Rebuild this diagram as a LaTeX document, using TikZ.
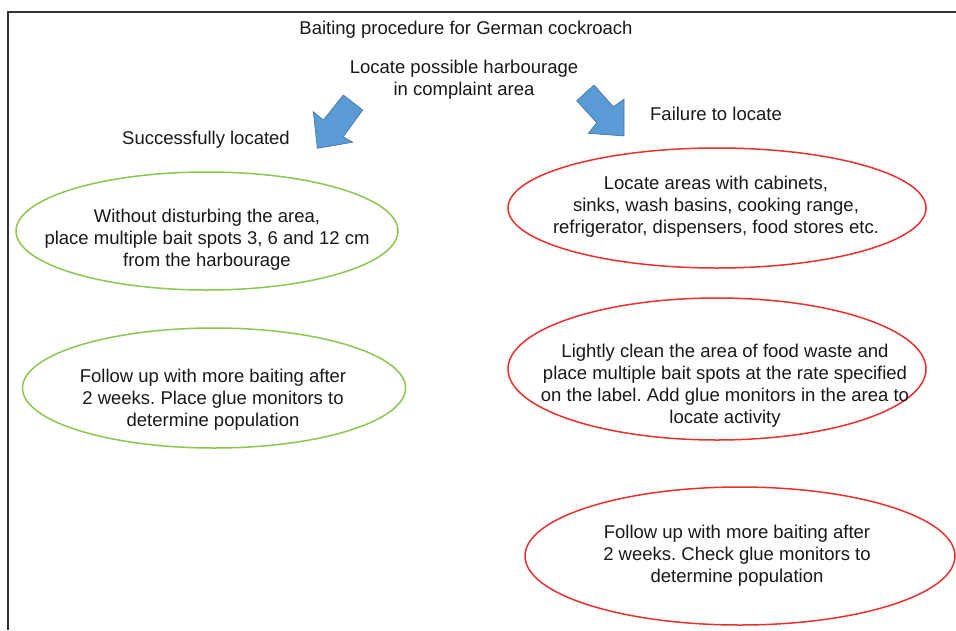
\documentclass[tikz,border=0pt]{standalone}
\usepackage{fontspec}
\setmainfont{Liberation Sans}
\usetikzlibrary{shapes.geometric}
\definecolor{gOut}{HTML}{8DC650}
\definecolor{rOut}{HTML}{E8312F}
\definecolor{aFill}{HTML}{5B9BD5}
\definecolor{aLine}{HTML}{41719C}
\frenchspacing
\begin{document}
\begin{tikzpicture}[x=1pt,y=-1pt,
  txt/.style={font=\fontsize{18.5}{22}\selectfont, align=center, inner sep=0pt, text=black!90},
  ovalG/.style={ellipse, draw=gOut, line width=1.5pt, inner sep=0pt},
  ovalR/.style={ellipse, draw=rOut, line width=1.5pt, inner sep=0pt},
  blockarrow/.style={fill=aFill, draw=aLine, line width=0.6pt, line join=miter}]
\useasboundingbox (0,0) rectangle (956,630);
\fill[white] (0,0) rectangle (956,630);
% frame
\draw[black!80, line width=1.6pt] (8,630) -- (8,12) -- (956,12);
% texts
\node[txt] (title) at (466,30) {Baiting procedure for German cockroach};
\node[txt] (locate) at (464,80) {Locate possible harbourage\\in complaint area};
\node[txt] (succ) at (206,140) {Successfully located};
\node[txt] (fail) at (716,114) {Failure to locate};
% ellipses
\node[ovalG, minimum width=382pt, minimum height=118pt] (g1) at (207,231) {};
\node[txt] (g1t) at (207,240) {Without disturbing the area,\\place multiple bait spots 3, 6 and 12 cm\\from the harbourage};
\node[ovalG, minimum width=383pt, minimum height=120pt] (g2) at (214,388) {};
\node[txt] (g2t) at (213,400) {Follow up with more baiting after\\2 weeks. Place glue monitors to\\determine population};
\node[ovalR, minimum width=418pt, minimum height=120pt] (r1) at (717,208) {};
\node[txt] (r1t) at (716,207) {Locate areas with cabinets,\\sinks, wash basins, cooking range,\\refrigerator, dispensers, food stores etc.};
\node[ovalR, minimum width=418pt, minimum height=142pt] (r2) at (717,369) {};
\node[txt] (r2t) at (725,386) {Lightly clean the area of food waste and\\place multiple bait spots at the rate specified\\on the label. Add glue monitors in the area to\\locate activity};
\node[ovalR, minimum width=430pt, minimum height=138pt] (r3) at (740,556) {};
\node[txt] (r3t) at (737,556) {Follow up with more baiting after\\2 weeks. Check glue monitors to\\determine population};
% block arrows
\draw[blockarrow] (343.3,95) -- (362.7,110) -- (343.3,136.7) -- (352.7,142.3) -- (317.3,148.3) -- (313.3,111.7) -- (323.3,120) -- cycle;
\draw[blockarrow] (594,85) -- (576.7,100.7) -- (596.7,122.7) -- (588.3,133.3) -- (624,136) -- (624,99.3) -- (613.3,106.7) -- cycle;
\end{tikzpicture}
\end{document}
